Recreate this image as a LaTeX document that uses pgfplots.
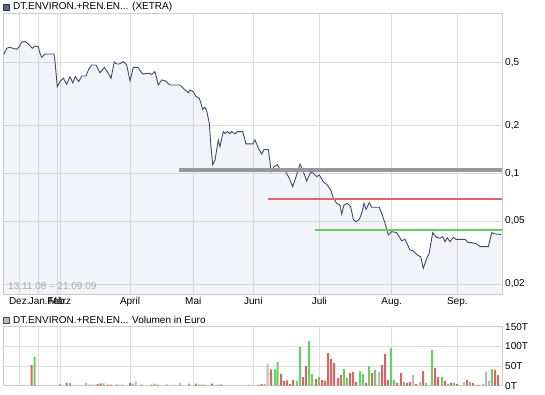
\documentclass[border=0pt]{standalone}
\usepackage{pgfplots}
\pgfplotsset{compat=1.18}
\usepackage{pgfplotstable}
\usepackage{fontspec}
\setmainfont{Liberation Sans}
\definecolor{linec}{HTML}{3F4A6B}
\definecolor{fillc}{HTML}{C2C8E8}
\definecolor{gridc}{HTML}{DDDDDD}
\definecolor{framec}{HTML}{CCCCCC}
\definecolor{redc}{HTML}{DE6464}
\definecolor{greenc}{HTML}{66D066}
\definecolor{grayc}{HTML}{BBBBBB}
\definecolor{hgray}{HTML}{999999}
\definecolor{hred}{HTML}{E06666}
\definecolor{hgreen}{HTML}{66CC66}
\definecolor{datec}{HTML}{AAAAAA}

\pgfplotstableread{
x y
4 0.564
6.7 0.613
9.3 0.622
13.3 0.613
16.7 0.604
19.3 0.628
21.7 0.672
25 0.675
28.3 0.653
32.3 0.613
35 0.634
38.3 0.628
40 0.570
41.7 0.538
45 0.564
54 0.564
55 0.505
57.3 0.351
60 0.378
63.3 0.397
66.7 0.364
70 0.406
72.7 0.372
75.3 0.406
78.7 0.378
81.7 0.410
86 0.410
88.7 0.452
91.7 0.481
96 0.481
100 0.430
104.3 0.465
107.3 0.437
111 0.397
114.3 0.503
116.7 0.488
119.3 0.488
123.3 0.505
126.7 0.481
130 0.383
133.3 0.465
137.7 0.465
142.7 0.422
148.3 0.427
151.7 0.420
155 0.437
158.3 0.360
161.7 0.387
165 0.383
170 0.360
180 0.360
185 0.335
188.3 0.322
190 0.335
193.3 0.327
196 0.304
199.3 0.297
202.7 0.253
205 0.260
206.7 0.248
209.3 0.206
210.7 0.154
212.7 0.113
215 0.121
218.3 0.162
220 0.147
223.3 0.183
225 0.178
227.3 0.183
230 0.178
231.7 0.183
235 0.177
237.3 0.183
242.7 0.183
246 0.153
252.7 0.153
255 0.162
258.3 0.144
261.7 0.132
264 0.141
268.3 0.141
270 0.118
271 0.102
274 0.110
277.3 0.113
280.7 0.104
285 0.104
289.3 0.0929
292.7 0.0822
295 0.0906
300 0.114
302.7 0.105
306.7 0.0893
310.7 0.102
313.3 0.100
316.7 0.0950
319.3 0.0974
323.3 0.0884
327.3 0.0843
330.7 0.0784
333.3 0.0698
336.7 0.0646
340 0.0630
341.7 0.0553
344 0.0630
347.3 0.0646
350.7 0.0615
353.3 0.0512
356 0.0494
359.3 0.0512
361.7 0.0559
364 0.0646
366 0.0592
369.3 0.0652
371.7 0.0610
379.3 0.0610
381.7 0.0559
385 0.0483
388.3 0.0408
391.7 0.0428
396.7 0.0422
401.7 0.0375
405 0.0383
410 0.0328
413.3 0.0323
417.3 0.0305
420.7 0.0297
423.3 0.0251
426.7 0.0291
429 0.0309
432.7 0.0422
436.7 0.0394
440 0.0389
442.7 0.0398
445 0.0370
447.3 0.0392
450 0.0370
453.3 0.0394
456 0.0383
465 0.0383
468.3 0.0365
471.7 0.0365
476.7 0.0358
480 0.0344
488.3 0.0344
491.7 0.0422
495 0.0414
501 0.0411
}\price

\pgfplotstableread{
x v
31.7 52.6
66.7 7
97.7 4
100.7 6
107.7 3
110.7 3
116.7 3
130 7
141.7 3
151.7 3
158 3
166.7 3
196 5
201.7 3
212 5
221 3
258.7 3
261.7 4
271 41.5
281 30
284 12
287 13.6
290 4
293 14.4
303 22
306 50
316 17
322 14.4
325 12
328 83
331 68
334 57.6
338 19.5
341 27
350 32
353 35
356 9
366 7
372 32
382 52.5
385 80
388 14.4
397 7
401 32
407 7
410 9
416 4
423 37
435 45
438 22
445 12
451 7
457 4
467 14
473 7
479 2
495 40
498 27
}\volred

\pgfplotstableread{
x v
34.7 73.7
60 4
70 7
89 3
92 3
103.7 6
122.7 3
132.7 5
154.7 5
189 5
199 3
204.7 3
218 3
264.7 4
275 41.5
277.7 60
297 12
300 98
309 113.5
312 30
319 22
344 42
347 19.5
360 37
363 30
369 50
375 40
391 96
394 14.4
404 9
426 7
432 90.6
442 22
448 4
454 7
470 9
492 42
}\volgreen

\pgfplotstableread{
x v
86 7
95 3
119.7 3
135.7 11
173.3 3
180 7
248.7 3
267.7 55
379 35
413 27
420 9
460 2
464 9
476 2
483 4
486 35
489 12
}\volgray

\begin{document}
\begin{tikzpicture}[font=\fontsize{10bp}{12bp}\selectfont]
\path[use as bounding box] (0bp,0bp) rectangle (545bp,395bp);
% main title
\filldraw[fill=linec!85, draw=linec!70!black] (3.5bp,384.5bp) rectangle (9.5bp,390.5bp);
\node[anchor=west, inner sep=0pt] at (13bp,387.8bp) {DT.ENVIRON.+REN.EN... (XETRA)};

\begin{axis}[
  at={(3bp,101bp)}, anchor=south west, scale only axis,
  width=499bp, height=280.7bp,
  xmin=3, xmax=502, ymode=log, ymin=0.01731, ymax=1.019,
  axis line style={framec, line width=0.8bp},
  grid=major, major grid style={gridc, line width=0.8bp},
  major tick length=0pt,
  xtick={19.3,38.3,57.3,60,130,193.3,253.3,319.3,391.7,457.3},
  xticklabels={Dez.,Jan.,Feb.,März,April,Mai,Juni,Juli,Aug.,Sep.},
  xticklabel style={anchor=north, inner sep=0pt, yshift=-3bp},
  ytick={0.02,0.05,0.1,0.2,0.5},
  yticklabels={{0,02},{0,05},{0,1},{0,2},{0,5}},
  yticklabel pos=right,
  yticklabel style={anchor=west, inner sep=0pt, xshift=3bp},
]
\addplot[fill=fillc, fill opacity=0.2, draw=none] table[x=x,y=y] {\price} |- (axis cs:4,0.01731) -- cycle;
\addplot[linec, line width=0.9bp] table[x=x,y=y] {\price};
\addplot[hgray, line width=3.5bp] coordinates {(179,0.1044) (502,0.1044)};
\addplot[hred, line width=2.6bp] coordinates {(268,0.0686) (502,0.0686)};
\addplot[hgreen, line width=2bp] coordinates {(315,0.0438) (502,0.0438)};
\end{axis}
\node[anchor=west, inner sep=0pt, text=datec] at (8bp,109bp) {13.11.08 – 21.09.09};

% volume title
\filldraw[fill=grayc, draw=black!70] (3.5bp,72bp) rectangle (9.5bp,78bp);
\node[anchor=west, inner sep=0pt] at (13bp,75.2bp) {DT.ENVIRON.+REN.EN... Volumen in Euro};

\begin{axis}[
  at={(3bp,9.3bp)}, anchor=south west, scale only axis,
  width=499bp, height=59bp,
  xmin=3, xmax=502, ymin=0, ymax=150,
  axis line style={framec, line width=0.8bp},
  grid=major, major grid style={gridc, line width=0.8bp},
  major tick length=0pt,
  xtick={19.3,38.3,57.3,60,130,193.3,253.3,319.3,391.7,457.3},
  xticklabels={},
  ytick={0,50,100,150},
  yticklabels={0T,50T,100T,150T},
  yticklabel pos=right,
  yticklabel style={anchor=west, inner sep=0pt, xshift=3bp},
]
\addplot[ybar, bar width=2bp, bar shift=0pt, fill=redc, draw=none] table[x=x,y=v] {\volred};
\addplot[ybar, bar width=2bp, bar shift=0pt, fill=greenc, draw=none] table[x=x,y=v] {\volgreen};
\addplot[ybar, bar width=2bp, bar shift=0pt, fill=grayc, draw=none] table[x=x,y=v] {\volgray};
\end{axis}
\end{tikzpicture}
\end{document}
